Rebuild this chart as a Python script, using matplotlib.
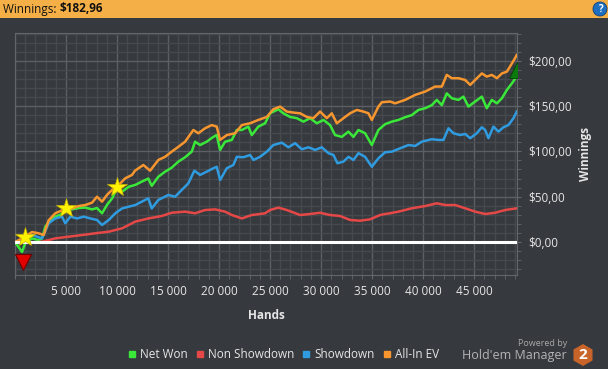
import matplotlib
matplotlib.use('Agg')
import matplotlib.pyplot as plt
from matplotlib.lines import Line2D
from matplotlib.patches import Rectangle, RegularPolygon, Circle
from matplotlib.ticker import FuncFormatter, MultipleLocator
from matplotlib.transforms import IdentityTransform

plt.rcParams['font.family'] = ['Open Sans', 'DejaVu Sans']

# Net Won
net_hands = [0, 690, 1010, 1670, 2320, 2650, 2970, 3460, 3950, 4440, 4930, 5590, 6250, 6890, 7550, 8040,
             8530, 9020, 9510, 10000, 10490, 11150, 11790, 12420, 13070, 13400, 14050, 14710, 15360, 16010,
             16670, 17320, 17650, 18140, 18790, 19440, 19770, 20100, 20590, 21250, 21740, 22230, 22870,
             23210, 23850, 24510, 25000, 25810, 26300, 26960, 27620, 28270, 28920, 29580, 30230, 30880,
             31370, 32030, 32680, 33170, 33660, 34310, 34970, 35620, 36270, 36930, 37580, 38240, 38890,
             39540, 40200, 40850, 41340, 41830, 42320, 42810, 43460, 43950, 44440, 45100, 45750, 46240,
             46730, 47230, 47720, 48210, 48700, 49190]
net_won = [0, -11, -1, 4, 2, 4, 17, 24, 28, 30, 35, 36, 37.5, 38, 36, 37.5, 31.7, 41, 48, 59, 55.5, 61, 63,
           66.6, 70, 62, 72, 77.6, 82, 88.7, 93.5, 99.7, 110.7, 107, 110.7, 116, 118, 101.6, 110.7, 112.6,
           123.6, 123.6, 127.3, 118, 127.3, 131, 142, 146.5, 142, 138, 136.6, 132.8, 136.6, 131, 134.7, 129,
           118, 116, 121.8, 116, 123.6, 120, 107, 123.6, 130, 132.8, 134.7, 137.7, 140, 145.7, 147.6, 151,
           156.8, 151, 164, 158.6, 156.8, 160.4, 149.4, 155, 160.4, 147.6, 156.8, 153, 158.6, 167.8, 175,
           182.96]

# Non Showdown
ns_hands = [0, 1500, 2650, 3950, 5270, 6570, 7870, 9190, 10490, 11470, 11760, 12450, 13070, 14380, 15360,
            16670, 17650, 18630, 19610, 20590, 21250, 22230, 23210, 24020, 24510, 25000, 25810, 26640, 27940,
            28920, 29900, 30880, 31860, 32840, 33820, 34800, 35780, 36270, 36760, 37580, 38890, 40200, 41340,
            42160, 43140, 44120, 45100, 46080, 47060, 48040, 49190]
non_showdown = [0, -1, 0.4, 4, 5.9, 7.7, 9.6, 11.4, 15.1, 20.6, 22.4, 24.3, 26, 28.7, 32.3, 33.5, 31.7, 35.3,
                36, 33.5, 29.8, 26, 29.8, 30.9, 31.7, 35.3, 37.9, 35.3, 29.8, 30.9, 32.3, 29.8, 28.7, 24.3,
                23.5, 25, 29.8, 30.9, 31.7, 33.5, 37.2, 39.7, 42.7, 40.8, 40.8, 37.2, 33.5, 30.9, 32.3, 35.3,
                37.2]

# Showdown
sd_hands = [0, 690, 1670, 2650, 3300, 3950, 4610, 4930, 5420, 6080, 6740, 7380, 8040, 8530, 9190, 9830,
            10490, 11150, 11790, 12420, 13070, 13400, 14050, 15030, 15690, 16340, 16990, 17580, 18140, 18790,
            19440, 19770, 20100, 20760, 21400, 21740, 22380, 23040, 23370, 24020, 24680, 25320, 26150, 26790,
            27450, 28110, 28760, 29410, 30070, 30720, 31210, 31600, 32190, 32680, 33170, 33660, 34310, 34970,
            35620, 36270, 36930, 37750, 38560, 39220, 39870, 40850, 41500, 41990, 42480, 42970, 43630, 44120,
            44610, 45260, 45750, 46080, 46400, 46890, 47380, 47870, 48360, 48850, 49190]
showdown = [0, 3, 7.7, 4, 20.6, 26, 28, 20.6, 28, 26, 28, 26, 24.3, 18.8, 24.3, 31.7, 37, 39, 40.8, 44.5, 48.2,
            37, 46.4, 51.9, 50, 57.4, 64.8, 78.7, 74, 77.6, 81.4, 83, 68.4, 81.4, 85, 94, 93.5, 96, 90.5, 94,
            99.7, 107, 109.6, 104.5, 109, 102.3, 104.5, 101.6, 104.5, 98, 96, 86.9, 88.7, 94, 90.5, 98, 94, 83,
            92.4, 99, 99.7, 103.4, 107, 106, 110.7, 113.4, 112.6, 112.6, 125.5, 120, 118, 119.2, 114.5, 120,
            126.6, 123.6, 114.5, 127.3, 121.8, 126.6, 129, 136.6, 143.9]

# All-In EV
ev_hands = [0, 360, 1010, 1670, 2320, 2810, 3300, 3950, 4610, 5590, 6250, 6890, 7550, 8040, 8530, 9020, 9510,
            10170, 10810, 11470, 11760, 12580, 13240, 14050, 14710, 15360, 16010, 16670, 17480, 17970, 18630,
            19280, 19770, 20100, 20760, 21570, 22230, 23040, 23850, 24680, 25320, 25980, 26640, 27280, 27940,
            28600, 29250, 29900, 30560, 31050, 31540, 32190, 32840, 33500, 34150, 34640, 34970, 35620, 35950,
            36760, 37250, 38240, 39220, 40200, 41180, 41830, 42320, 42810, 43460, 44120, 44610, 45100, 45750,
            46240, 46730, 47230, 47720, 48210, 48700, 49190]
all_in_ev = [0, 2, 6, 11, 9.6, 7.7, 24, 31.7, 35, 37, 39.7, 40.8, 43.4, 50, 44.5, 52, 57.4, 63, 70.3, 74, 78.7,
             85, 78.7, 90.5, 94, 99.7, 105, 110.7, 123.6, 120, 125.5, 129, 127.3, 112.6, 118, 120, 129, 131,
             134.7, 138, 146.5, 149.4, 143.9, 142.8, 142, 138, 136.6, 143.9, 136.6, 142, 131, 136.6, 142,
             145.7, 143.9, 142, 134.7, 149.4, 154.2, 155, 153, 156.8, 162.3, 166, 171.5, 171.5, 184.4, 180.7,
             180.7, 178.8, 173.3, 178.8, 186, 182.5, 184.4, 180.7, 186, 188, 197, 206.4]

# markers
star_hands = [950, 5000, 10000]
star_values = [5.2, 37, 61]
low_hand, low_value = 820, -21.7
high_hand, high_value = 49200, 190

BG = '#36393d'
TXT = '#e6e6e6'
fig = plt.figure(figsize=(6.08, 3.69), dpi=100, facecolor=BG)
ax = fig.add_axes([15/608, 1-275/369, 502/608, 242/369])
ax.set_facecolor(BG)

ax.plot(net_hands, net_won, color='#3ae83a', lw=1.8, zorder=3)
ax.plot(ns_hands, non_showdown, color='#e64848', lw=1.8, zorder=3)
ax.plot(sd_hands, showdown, color='#2f9be0', lw=1.8, zorder=3)
ax.plot(ev_hands, all_in_ev, color='#f7962f', lw=1.8, zorder=3)
ax.axhline(0, color='white', lw=2.2, zorder=4)

ax.plot(star_hands, star_values, ls='none', marker='*', ms=15, color='#fff200',
        mec='#c8b400', mew=0.5, zorder=6)
ax.plot([low_hand], [low_value], ls='none', marker='v', ms=11, color='#e00000',
        mec='#700000', mew=0.8, zorder=6)
ax.plot([high_hand], [high_value], ls='none', marker='^', ms=12, color='#0a7a0a',
        mec='#064006', mew=0.6, zorder=6)

ax.set_xlim(0, 49200)
ax.set_ylim(-36.4, 230.6)
ax.xaxis.set_major_locator(MultipleLocator(5000))
ax.xaxis.set_minor_locator(MultipleLocator(1000))
ax.yaxis.set_major_locator(MultipleLocator(50))
ax.yaxis.set_minor_locator(MultipleLocator(10))
ax.xaxis.set_major_formatter(FuncFormatter(lambda v, p: '' if v <= 0 else f'{int(v):,}'.replace(',', ' ')))
ax.yaxis.set_major_formatter(FuncFormatter(lambda v, p: f'${v:.2f}'.replace('.', ',')))
ax.yaxis.tick_right()
ax.yaxis.set_label_position('right')

ax.grid(which='major', color='#5c6064', lw=1)
ax.grid(which='minor', color='#464a4e', lw=1)
ax.set_axisbelow(True)
for s in ax.spines.values():
    s.set_color('#63676b')
ax.tick_params(which='both', colors='#63676b', labelcolor=TXT, labelsize=8.5, length=3)
ax.tick_params(axis='y', pad=5)
ax.tick_params(axis='x', pad=4)

ax.set_xlabel('Hands', color=TXT, fontsize=8.5, fontweight='bold', labelpad=8)
ax.set_ylabel('Winnings', color=TXT, fontsize=8.5, fontweight='bold', labelpad=5)

# title bar
fig.patches.append(Rectangle((0, 1-18/369), 1, 18/369, transform=fig.transFigure,
                             facecolor='#f5af47', edgecolor='none', zorder=0))
t1 = fig.text(3/608, 1-9/369, 'Winnings: ', fontsize=8.5, color='#111111', va='center')
r = fig.canvas.get_renderer()
bb = t1.get_window_extent(renderer=r)
fig.text(bb.x1/608, 1-9/369, '$182,96', fontsize=8.5, color='#111111', va='center', fontweight='bold')
help_icon = Circle((600, 369-9), 7, facecolor='#1f6fc0', edgecolor='#0d3f7a', lw=0.6,
                   transform=IdentityTransform())
fig.patches.append(help_icon)
fig.text(600/608, 1-9/369, '?', fontsize=7, color='white', fontweight='bold', ha='center', va='center')

# legend
handles = [Line2D([], [], ls='none', marker='s', ms=4.5, color=c)
           for c in ['#3ae83a', '#e64848', '#2f9be0', '#f7962f']]
fig.legend(handles, ['Net Won', 'Non Showdown', 'Showdown', 'All-In EV'], loc='center',
           bbox_to_anchor=(284/608, 1-355/369), ncol=4, frameon=False, fontsize=8.5,
           labelcolor=TXT, handlelength=0.5, handletextpad=0.4, columnspacing=0.8)

# logo
fig.text(567/608, 1-343/369, 'Powered by', fontsize=6.5, color='#a8a8a8', ha='right', va='center')
fig.text(567/608, 1-355/369, "Hold'em Manager", fontsize=9, color='#b4b4b4', ha='right', va='center')
hexagon = RegularPolygon((583, 369-355), 6, radius=11, orientation=0, facecolor='#c8642a',
                         edgecolor='none', transform=IdentityTransform())
fig.patches.append(hexagon)
fig.text(583/608, 1-355/369, '2', fontsize=11, color='white', fontweight='bold', ha='center', va='center')

fig.savefig('out.png', dpi=100, facecolor=BG)
